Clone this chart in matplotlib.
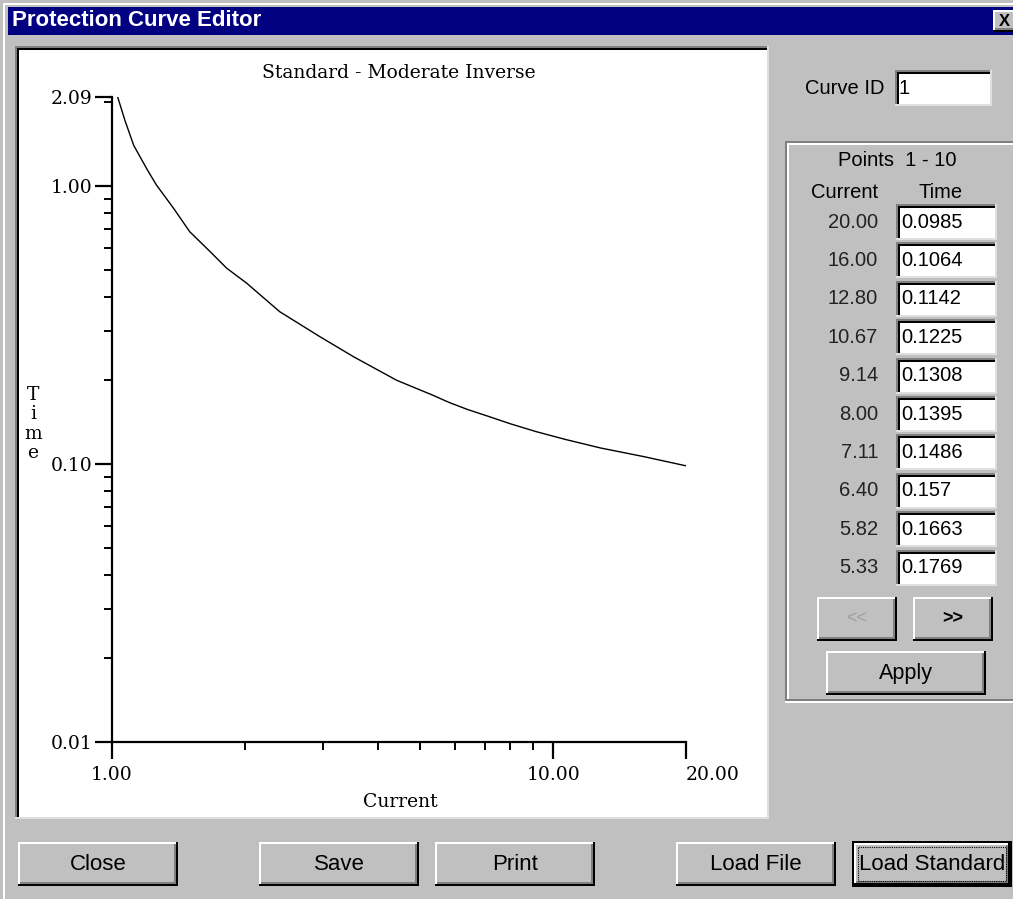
import matplotlib
matplotlib.use("Agg")
import matplotlib.pyplot as plt
from matplotlib.patches import Rectangle
from matplotlib.ticker import FixedLocator, LogLocator, NullFormatter

low_current = [1.03, 1.07, 1.12, 1.20, 1.26, 1.38, 1.50, 1.67, 1.82, 2.02, 2.40, 2.96, 3.53, 4.42]
low_time = [2.09, 1.72, 1.40, 1.15, 1.01, 0.83, 0.685, 0.58, 0.506, 0.447, 0.353, 0.287, 0.243, 0.200]

# points 1 - 10 as listed in the editor table
table_current = [20.00, 16.00, 12.80, 10.67, 9.14, 8.00, 7.11, 6.40, 5.82, 5.33]
table_time = [0.0985, 0.1064, 0.1142, 0.1225, 0.1308, 0.1395, 0.1486, 0.157, 0.1663, 0.1769]

x_ticks = [1.0, 10.0, 20.0]
x_ticklabels = ["1.00", "10.00", "20.00"]
y_ticks = [0.01, 0.10, 1.00, 2.09]
y_ticklabels = ["0.01", "0.10", "1.00", "2.09"]

curve_id = "1"
title = "Standard - Moderate Inverse"

W, H = 1013, 899
GRAY = "#c0c0c0"
DARK = "#808080"
LIGHT = "#dfdfdf"
UI = "Liberation Sans"
SERIF = "DejaVu Serif"
FS = 13.5

fig = plt.figure(figsize=(W / 100, H / 100), dpi=100)
fig.patch.set_facecolor(GRAY)
bg = fig.add_axes([0, 0, 1, 1])
bg.set_xlim(0, W)
bg.set_ylim(H, 0)
bg.axis("off")


def rect(x0, y0, x1, y1, color):
    bg.add_patch(Rectangle((x0, y0), x1 - x0, y1 - y0, facecolor=color, edgecolor="none"))


def raised(x0, y0, x1, y1, default=False):
    rect(x0, y0, x1, y1, GRAY)
    if default:
        rect(x0 - 1, y0 - 1, x1 + 1, y1 + 1, "black")
        rect(x0 + 1, y0 + 1, x1 - 1, y1 - 1, GRAY)
        x0, y0, x1, y1 = x0 + 1, y0 + 1, x1 - 1, y1 - 1
    rect(x0, y0, x1, y0 + 2, "white")
    rect(x0, y0, x0 + 2, y1, "white")
    rect(x0, y1 - 2, x1, y1, "black")
    rect(x1 - 2, y0, x1, y1, "black")
    rect(x0 + 2, y1 - 4, x1 - 2, y1 - 2, DARK)
    rect(x1 - 4, y0 + 2, x1 - 2, y1 - 2, DARK)


def sunken(x0, y0, x1, y1):
    rect(x0, y0, x1, y1, "white")
    rect(x0, y0, x1, y0 + 2, DARK)
    rect(x0, y0, x0 + 2, y1, DARK)
    rect(x0 + 2, y0 + 2, x1 - 2, y0 + 4, "black")
    rect(x0 + 2, y0 + 2, x0 + 4, y1 - 2, "black")
    rect(x0, y1 - 2, x1, y1, LIGHT)
    rect(x1 - 2, y0, x1, y1, LIGHT)


# dialog frame and title bar
rect(3, 3, W, 5, "white")
rect(3, 3, 5, H, "white")
rect(8, 7, W, 35, "#000080")
bg.text(12, 21, "Protection Curve Editor", color="white", fontsize=16,
        fontweight="bold", family=UI, va="center", ha="left")
raised(993, 10, W + 4, 32)
bg.text(1004, 21, "X", fontsize=12, fontweight="bold", family=UI, va="center", ha="center")

# white plot panel
sunken(15, 46, 769, 819)

# right side controls
bg.text(845, 89, "Curve ID", fontsize=14.5, family=UI, va="center", ha="center")
sunken(895, 70, 992, 106)
bg.text(899, 89, curve_id, fontsize=14.5, family=UI, va="center", ha="left")

rect(785, 141, W, 143, DARK)
rect(785, 143, W, 145, "white")
rect(785, 141, 787, 703, DARK)
rect(787, 143, 789, 701, "white")
rect(785, 699, W, 701, DARK)
rect(785, 701, W, 703, "white")

bg.text(897, 160, "Points  1 - 10", fontsize=14.5, family=UI, va="center", ha="center")
bg.text(845, 192, "Current", fontsize=14.5, family=UI, va="center", ha="center")
bg.text(941, 192, "Time", fontsize=14.5, family=UI, va="center", ha="center")
for i, (c, t) in enumerate(zip(table_current, table_time)):
    yc = 222 + i * 38.4
    bg.text(878, yc, f"{c:.2f}", fontsize=14.5, family=UI, va="center", ha="right",
            color="#222222")
    sunken(896, yc - 18, 997, yc + 18)
    bg.text(901, yc, f"{t:g}", fontsize=14.5, family=UI, va="center", ha="left")

raised(817, 597, 897, 641)
bg.text(857, 619, "<<", fontsize=13, family=UI, va="center", ha="center", color="#a0a0a0")
raised(913, 597, 993, 641)
bg.text(953, 619, ">>", fontsize=13, fontweight="bold", family=UI, va="center", ha="center")
raised(826, 651, 986, 695)
bg.text(906, 674, "Apply", fontsize=15.5, family=UI, va="center", ha="center")

# bottom buttons
for x0, label in [(18, "Close"), (259, "Save"), (435, "Print"), (676, "Load File")]:
    raised(x0, 842, x0 + 160, 886)
    bg.text(x0 + 80, 865, label, fontsize=16, family=UI, va="center", ha="center")
raised(853, 842, 1011, 886, default=True)
bg.add_patch(Rectangle((858, 847), 148, 34, facecolor="none", edgecolor="black",
                       linestyle=(0, (1, 1)), linewidth=0.8))
bg.text(932, 865, "Load Standard", fontsize=16, family=UI, va="center", ha="center")

# the curve axes
left, right, top, bottom = 112, 686, 97, 742
ax = fig.add_axes([left / W, 1 - bottom / H, (right - left) / W, (bottom - top) / H])
ax.set_facecolor("none")
curve = sorted(zip(low_current + table_current, low_time + table_time))
ax.plot([p[0] for p in curve], [p[1] for p in curve], color="black", linewidth=1.0)
ax.set_xscale("log")
ax.set_yscale("log")
ax.set_xlim(1, 20)
ax.set_ylim(0.01, 2.09)
for s in ["top", "right"]:
    ax.spines[s].set_visible(False)
for s in ["left", "bottom"]:
    ax.spines[s].set_linewidth(1.6)

ax.xaxis.set_major_locator(FixedLocator(x_ticks))
ax.set_xticklabels(x_ticklabels)
ax.xaxis.set_minor_locator(LogLocator(base=10, subs=range(2, 10)))
ax.xaxis.set_minor_formatter(NullFormatter())
ax.yaxis.set_major_locator(FixedLocator(y_ticks))
ax.set_yticklabels(y_ticklabels)
ax.yaxis.set_minor_locator(LogLocator(base=10, subs=range(2, 10)))
ax.yaxis.set_minor_formatter(NullFormatter())
ax.tick_params(which="major", length=12, width=1.6, direction="out",
               labelsize=FS, labelfontfamily=SERIF)
ax.tick_params(axis="x", which="major", pad=5)
ax.tick_params(axis="y", which="major", pad=2)
ax.tick_params(which="minor", length=6, width=1.4, direction="out")
ax.get_xticklabels()[-1].set_horizontalalignment("left")

ax.set_title(title, fontsize=FS, family=SERIF, pad=14)
ax.set_xlabel("Current", fontsize=FS, family=SERIF, va="center")
ax.xaxis.set_label_coords(0.502, -0.093)
ax.set_ylabel("T\ni\nm\ne", fontsize=FS, family=SERIF, rotation=0, linespacing=1.1,
              va="center", ha="center")
ax.yaxis.set_label_coords(-0.138, 0.493)

fig.savefig("out.png", dpi=100, facecolor=GRAY)
